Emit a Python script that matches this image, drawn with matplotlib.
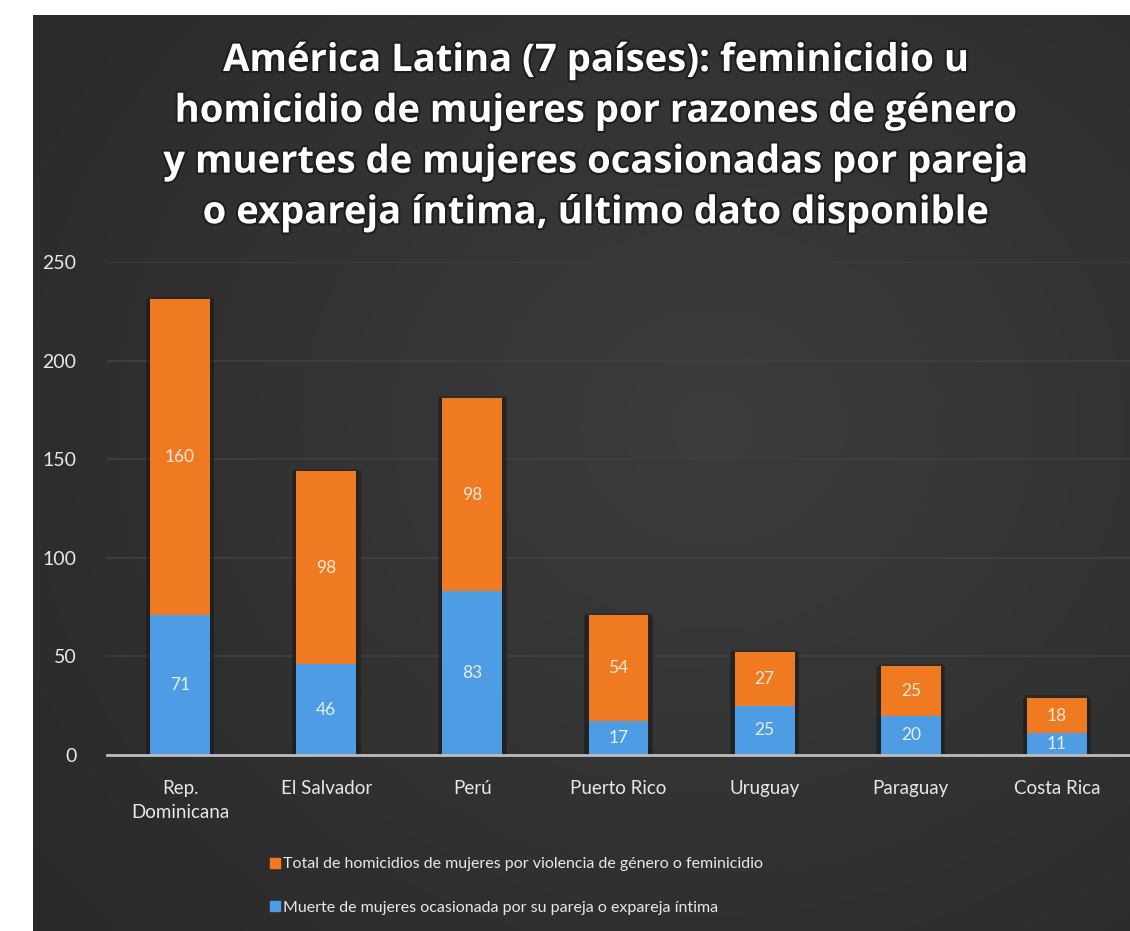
import numpy as np
import matplotlib
matplotlib.use("Agg")
import matplotlib.pyplot as plt
import matplotlib.patheffects as pe
from matplotlib.lines import Line2D

categories = ["Rep.\nDominicana", "El Salvador", "Perú", "Puerto Rico", "Uruguay", "Paraguay", "Costa Rica"]
pareja = [71, 46, 83, 17, 25, 20, 11]
total_genero = [160, 98, 98, 54, 27, 25, 18]
yticks = [0, 50, 100, 150, 200, 250]
title = ("América Latina (7 países): feminicidio u\n"
         "homicidio de mujeres por razones de género\n"
         "y muertes de mujeres ocasionadas por pareja\n"
         "o expareja íntima, último dato disponible")
legend_labels = ["Total de homicidios de mujeres por violencia de género o feminicidio",
                 "Muerte de mujeres ocasionada por su pareja o expareja íntima"]

W, H = 1130, 931
fig = plt.figure(figsize=(W / 100, H / 100), dpi=100, facecolor="white")

# dark background panel with soft radial gradient
bg = fig.add_axes([33 / W, 0, 1 - 33 / W, (H - 15) / H])
bg.set_axis_off()
yy, xx = np.mgrid[0:1:300j, 0:1:400j]
r = np.sqrt(((xx - 0.62) / 0.75) ** 2 + ((yy - 0.45) / 0.8) ** 2)
shade = np.clip(0.235 - 0.07 * r, 0.15, 0.25)
img = np.dstack([shade, shade, shade])
bg.imshow(img, extent=[0, 1, 0, 1], aspect="auto", interpolation="bicubic")
bg.set_xlim(0, 1)
bg.set_ylim(0, 1)

ax = fig.add_axes([107 / W, (H - 755) / H, 1 - 107 / W, (755 - 262) / H])
ax.patch.set_alpha(0)
x = np.arange(len(categories))
totals = [a + b for a, b in zip(pareja, total_genero)]

orange = "#F07A22"
blue = "#4E9DE4"

ax.bar(x, totals, width=0.47, color=(0.08, 0.08, 0.08, 0.4), zorder=2)
ax.bar(x, [t + 1.2 for t in totals], width=0.455, color=(0.1, 0.1, 0.1, 0.3), zorder=2)
ax.bar(x, pareja, width=0.41, color=blue, zorder=3)
ax.bar(x, total_genero, bottom=pareja, width=0.41, color=orange, zorder=3)

for xi, p, t in zip(x, pareja, total_genero):
    ax.text(xi, p / 2, str(p), ha="center", va="center", color="#e6eef8",
            fontsize=12.5, family="Lato", zorder=5)
    ax.text(xi, p + t / 2, str(t), ha="center", va="center", color="#fbe9dc",
            fontsize=12.5, family="Lato", zorder=5)

ax.set_ylim(0, 250)
ax.set_xlim(-0.5, len(categories) - 0.5)
ax.set_yticks(yticks)
ax.set_yticklabels([str(v) for v in yticks], color="#e8e8e8", fontsize=14, family="Lato")
ax.set_xticks(x)
ax.set_xticklabels(categories, color="#e8e8e8", fontsize=13.5, family="Lato", linespacing=1.5)
ax.tick_params(axis="both", length=0)
ax.tick_params(axis="y", pad=22)
ax.tick_params(axis="x", pad=18)
for s in ["top", "right", "left"]:
    ax.spines[s].set_visible(False)
ax.spines["bottom"].set_color("#bdbdbd")
ax.spines["bottom"].set_linewidth(2)
ax.spines["bottom"].set_zorder(4)
ax.grid(axis="y", color="#404040", linewidth=1.2, zorder=1)
ax.set_axisbelow(True)

fig.text(597 / W, 1 - 42 / H, title, ha="center", va="top", color="white",
         fontsize=27.5, fontweight="bold", family="Open Sans", linespacing=1.44,
         path_effects=[pe.withStroke(linewidth=3, foreground="#1e1e1e")])

handles = [Line2D([], [], marker="s", linestyle="none", markersize=7, color=orange),
           Line2D([], [], marker="s", linestyle="none", markersize=7, color=blue)]
leg = fig.legend(handles, legend_labels, loc="upper left", bbox_to_anchor=(262 / W, 1 - 849 / H),
                 frameon=False, labelspacing=1.85, handlelength=0.6,
                 handletextpad=0.2, borderpad=0, prop={"family": "Lato", "size": 11.5})
for t in leg.get_texts():
    t.set_color("#e8e8e8")

fig.savefig("out.png", dpi=100, facecolor="white")
